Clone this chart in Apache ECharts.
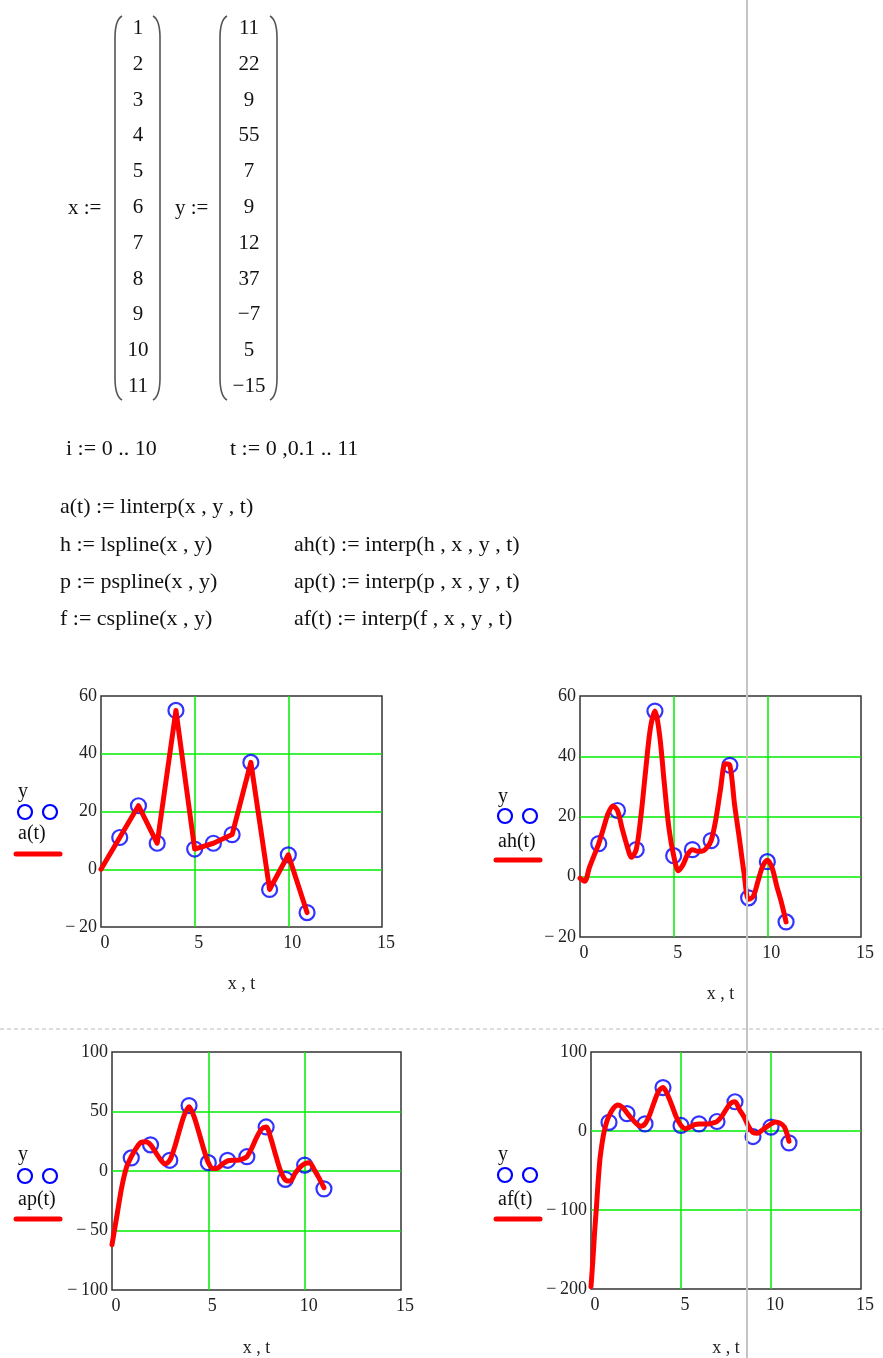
<!DOCTYPE html>
<html>
<head>
<meta charset="utf-8">
<script src="https://cdn.jsdelivr.net/npm/echarts/dist/echarts.min.js"></script>
<style>
  body { margin: 0; background: #fff; }
  #main { width: 883px; height: 1358px; }
</style>
</head>
<body>
<div id="main"></div>
<script>
// data vectors of the worksheet
var xVals = [1, 2, 3, 4, 5, 6, 7, 8, 9, 10, 11];
var yVals = [11, 22, 9, 55, 7, 9, 12, 37, -7, 5, -15];

// a(t) = linterp
var tA = [0, 1, 2, 3, 4, 5, 6, 7, 8, 9, 10, 11];
var aVals = [0, 11, 22, 9, 55, 7, 9, 12, 37, -7, 5, -15];

// curve sample points
var tS = [0, 0.25, 0.5, 0.75, 1, 1.25, 1.5, 1.75, 2, 2.25, 2.5, 2.75, 3, 3.25, 3.5, 3.75, 4, 4.25, 4.5, 4.75, 5, 5.25, 5.5, 5.75, 6, 6.25, 6.5, 6.75, 7, 7.25, 7.5, 7.75, 8, 8.25, 8.5, 8.75, 9, 9.25, 9.5, 9.75, 10, 10.25, 10.5, 10.75, 11];

// ah(t) = lspline
var ahVals = [-0.5, -1.5, 3, 7, 11, 16, 21, 23.5, 22, 16, 10.5, 6.5, 9, 20, 35, 49, 55, 47, 31, 16, 7, 2, 4, 7.5, 9, 8.5, 8.5, 9.5, 12, 19, 29, 37.5, 37, 24, 13, 1.5, -7.5, -6.5, -1.5, 3.5, 5.5, 3, -3, -8.5, -15];

// ap(t) = pspline
var apVals = [-62, -38, -14, 3, 12, 19, 24, 24.5, 22, 16, 10, 6, 9, 20, 34, 47, 54, 46, 33, 19, 7, 2, 2.5, 6, 8.5, 9, 9, 10, 12, 19, 28, 35, 37, 27, 13, 0, -7.5, -8.5, -2, 3, 6, 7, 1, -6, -14];

// af(t) = cspline (steep start sampled finer)
var tF = [0, 0.1, 0.2, 0.3, 0.4, 0.5, 0.6, 0.7, 0.85, 1, 1.25, 1.5, 1.75, 2, 2.25, 2.5, 2.75, 3, 3.25, 3.5, 3.75, 4, 4.25, 4.5, 4.75, 5, 5.25, 5.5, 5.75, 6, 6.25, 6.5, 6.75, 7, 7.25, 7.5, 7.75, 8, 8.25, 8.5, 8.75, 9, 9.25, 9.5, 9.75, 10, 10.25, 10.5, 10.75, 11];
var afVals = [-197, -165, -128, -97, -63, -35, -18, -4, 10, 19, 29, 33, 30, 23, 16, 10, 6, 9, 20, 36, 50, 55, 46, 32, 17, 7, 3, 5, 8, 9, 9, 9, 10, 12, 18, 27, 35, 37, 27, 18, 6, -2, -3, 1, 5, 9, 11.5, 10, 5, -13];

var xTicks = [0, 5, 10, 15];
var yTicksA = [-20, 0, 20, 40, 60];
var yTicksP = [-100, -50, 0, 50, 100];
var yTicksF = [-200, -100, 0, 100];

var FONT = 'Liberation Serif';
var chart = echarts.init(document.getElementById('main'));

function pairs(xs, ys) {
    return xs.map(function (x, i) { return [x, ys[i]]; });
}
function tickFmt(v) {
    return v < 0 ? '\u2212\u2009' + Math.abs(v) : String(v);
}

var panels = [
    { grid: { left: 101, top: 696, width: 281, height: 231 }, ticks: yTicksA, t: tA, v: aVals, smooth: false, gap: 48 },
    { grid: { left: 580, top: 696, width: 281, height: 241 }, ticks: yTicksA, t: tS, v: ahVals, smooth: 0.3, gap: 48 },
    { grid: { left: 112, top: 1052, width: 289, height: 247 }, ticks: yTicksP, t: tS, v: apVals, smooth: 0.3, gap: 49 },
    { grid: { left: 591, top: 1052, width: 270, height: 246 }, ticks: yTicksF, t: tF, v: afVals, smooth: 0.3, gap: 50 }
];

var grids = [], xAxes = [], yAxes = [], series = [];
panels.forEach(function (p, k) {
    grids.push(Object.assign({ show: true, borderColor: '#333', borderWidth: 1.5, backgroundColor: 'transparent' }, p.grid));
    var greenLine = { show: true, showMinLine: false, showMaxLine: false, lineStyle: { color: '#00ee00', width: 1.5 } };
    xAxes.push({
        type: 'value', gridIndex: k, min: xTicks[0], max: xTicks[xTicks.length - 1], interval: 5,
        name: 'x , t', nameLocation: 'middle', nameGap: p.gap,
        nameTextStyle: { fontFamily: FONT, fontSize: 18, color: '#222' },
        axisLine: { show: false }, axisTick: { show: false },
        axisLabel: { fontFamily: FONT, fontSize: 18, color: '#222', margin: 7, padding: [0, 0, 0, 8], formatter: tickFmt },
        splitLine: greenLine
    });
    yAxes.push({
        type: 'value', gridIndex: k, min: p.ticks[0], max: p.ticks[p.ticks.length - 1],
        interval: p.ticks[1] - p.ticks[0],
        axisLine: { show: false }, axisTick: { show: false },
        axisLabel: { fontFamily: FONT, fontSize: 18, color: '#222', margin: 4, formatter: tickFmt },
        splitLine: greenLine
    });
    series.push({
        type: 'scatter', xAxisIndex: k, yAxisIndex: k, data: pairs(xVals, yVals),
        symbol: 'circle', symbolSize: 15, z: 2,
        itemStyle: { color: 'transparent', borderColor: '#0000ff', borderWidth: 2.2 }
    });
    series.push({
        type: 'line', xAxisIndex: k, yAxisIndex: k, data: pairs(p.t, p.v),
        smooth: p.smooth, showSymbol: false, z: 3, clip: true,
        lineStyle: { color: '#ff0000', width: 5, join: 'round', cap: 'round' }
    });
});

// worksheet text and decorations
var g = [];
function txt(s, x, y, size, align) {
    g.push({ type: 'text', x: x, y: y, z: 10, style: {
        text: s, fill: '#111', font: (size || 22) + 'px "' + FONT + '"',
        textAlign: align || 'left', textVerticalAlign: 'middle' } });
}
function bracket(x, top, bottom, dir) {
    var s = { stroke: '#555', lineWidth: 1.6, fill: 'none' };
    g.push({ type: 'bezierCurve', z: 10, shape: { x1: x + 7 * dir, y1: top, cpx1: x, cpy1: top + 4, x2: x, y2: top + 22 }, style: s });
    g.push({ type: 'line', z: 10, shape: { x1: x, y1: top + 22, x2: x, y2: bottom - 22 }, style: s });
    g.push({ type: 'bezierCurve', z: 10, shape: { x1: x, y1: bottom - 22, cpx1: x, cpy1: bottom - 4, x2: x + 7 * dir, y2: bottom }, style: s });
}

txt('x :=', 68, 208, 21);
txt('y :=', 175, 208, 21);
bracket(115, 16, 400, 1);
bracket(160, 16, 400, -1);
bracket(220, 16, 400, 1);
bracket(277, 16, 400, -1);
xVals.forEach(function (v, i) { txt(String(v), 138, 28.5 + i * 35.8, 21, 'center'); });
yVals.forEach(function (v, i) { txt(v < 0 ? '\u2212' + Math.abs(v) : String(v), 249, 28.5 + i * 35.8, 21, 'center'); });

txt('i := 0 .. 10', 66, 449);
txt('t := 0 ,0.1 .. 11', 230, 449);
txt('a(t) := linterp(x , y , t)', 60, 507);
txt('h := lspline(x , y)', 60, 545);
txt('p := pspline(x , y)', 60, 582);
txt('f := cspline(x , y)', 60, 619);
txt('ah(t) := interp(h , x , y , t)', 294, 545);
txt('ap(t) := interp(p , x , y , t)', 294, 582);
txt('af(t) := interp(f , x , y , t)', 294, 619);

// y-axis legends
var legends = [
    { x: 18, yy: 792, cy: 812, name: 'a(t)', ny: 834, ly: 854 },
    { x: 498, yy: 797, cy: 816, name: 'ah(t)', ny: 842, ly: 860 },
    { x: 18, yy: 1155, cy: 1176, name: 'ap(t)', ny: 1200, ly: 1219 },
    { x: 498, yy: 1155, cy: 1175, name: 'af(t)', ny: 1200, ly: 1219 }
];
legends.forEach(function (L) {
    txt('y', L.x, L.yy, 20);
    [7, 32].forEach(function (dx) {
        g.push({ type: 'circle', z: 10, shape: { cx: L.x + dx, cy: L.cy, r: 7 }, style: { fill: 'none', stroke: '#0000ff', lineWidth: 2.2 } });
    });
    txt(L.name, L.x, L.ny, 20);
    g.push({ type: 'line', z: 10, shape: { x1: L.x - 2, y1: L.ly, x2: L.x + 42, y2: L.ly }, style: { stroke: '#ff0000', lineWidth: 5, lineCap: 'round' } });
});

// region separator and page edge marker
g.push({ type: 'line', z: 5, shape: { x1: 0, y1: 1029, x2: 883, y2: 1029 }, style: { stroke: '#bbb', lineWidth: 1, lineDash: [4, 3] } });
g.push({ type: 'line', z: 20, shape: { x1: 747, y1: 0, x2: 747, y2: 1358 }, style: { stroke: '#c4c4c4', lineWidth: 2 } });

chart.setOption({
    backgroundColor: '#fff',
    animation: false,
    grid: grids,
    xAxis: xAxes,
    yAxis: yAxes,
    series: series,
    graphic: g
});
</script>
</body>
</html>
